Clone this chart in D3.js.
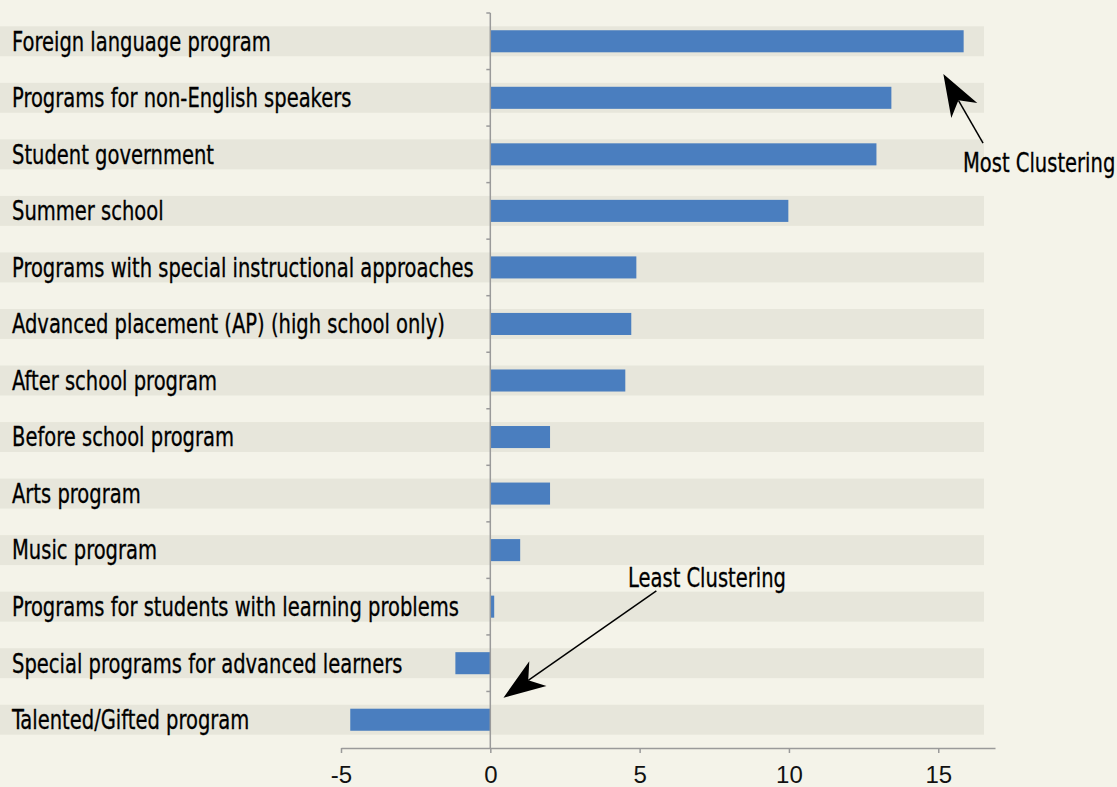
<!DOCTYPE html>
<html><head><meta charset="utf-8">
<script src="https://cdn.jsdelivr.net/npm/d3@7"></script>
<style>
html,body{margin:0;padding:0;background:#f4f3e9;}
svg{display:block;}
</style></head>
<body>
<svg id="chart" width="1117" height="787"></svg>
<script>
const categories = [
  "Foreign language program",
  "Programs for non-English speakers",
  "Student government",
  "Summer school",
  "Programs with special instructional approaches",
  "Advanced placement (AP) (high school only)",
  "After school program",
  "Before school program",
  "Arts program",
  "Music program",
  "Programs for students with learning problems",
  "Special programs for advanced learners",
  "Talented/Gifted program"
];
const values = [15.85, 13.43, 12.93, 9.98, 4.89, 4.72, 4.52, 2.0, 2.0, 1.0, 0.13, -1.17, -4.69];
const tickValues = [-5, 0, 5, 10, 15];
const tickLabels = ["-5", "0", "5", "10", "15"];
const xDomain = [-5, 16.9];
// annotations: text, tip (value, row position), tail (value, row position)
const annotationTexts = ["Most Clustering", "Least Clustering"];
const annotationTips = [[15.17, 0.58], [0.44, 11.61]];
const annotationTails = [[16.5, 1.80], [5.56, 9.72]];

const svg = d3.select("#chart");
const W = 1117, H = 787;
svg.append("rect").attr("width", W).attr("height", H).attr("fill", "#f4f3e9");

const x = d3.scaleLinear().domain(xDomain).range([341, 995]);
const y = d3.scaleBand().domain(categories).range([13, 748]).paddingInner(0).paddingOuter(0);
const step = y.step();
const rowY = r => 13 + (r + 0.5) * step;

const bandH = step * 0.53, barH = step * 0.39;
const LABEL_FONT = "'Liberation Sans Narrow','DejaVu Sans Condensed','Liberation Sans',sans-serif";

// gray bands
svg.append("g").selectAll("rect").data(categories).join("rect")
  .attr("x", 0).attr("width", 984)
  .attr("y", d => y(d) + step / 2 - bandH / 2)
  .attr("height", bandH)
  .attr("fill", "#e7e6db");

// bars
svg.append("g").selectAll("rect").data(values).join("rect")
  .attr("x", d => x(Math.min(0, d)))
  .attr("width", d => Math.abs(x(d) - x(0)))
  .attr("y", (d, i) => y(categories[i]) + step / 2 - barH / 2)
  .attr("height", barH)
  .attr("fill", "#4a7ebf");

// x axis
const xAxis = svg.append("g").attr("transform", "translate(0,748)")
  .call(d3.axisBottom(x).tickValues(tickValues)
    .tickFormat((d, i) => tickLabels[i])
    .tickSize(5).tickSizeOuter(0).tickPadding(13));
xAxis.select(".domain").attr("stroke", "#9a9a9a").attr("stroke-width", 1.5);
xAxis.selectAll(".tick line").attr("stroke", "#9a9a9a").attr("stroke-width", 1.5);
xAxis.selectAll(".tick text").attr("font-family", "'Liberation Sans',Arial,sans-serif")
  .attr("font-size", 24).attr("fill", "#111");

// y axis (vertical line at 0 with boundary ticks on left)
const yAx = svg.append("g");
yAx.append("line").attr("x1", x(0)).attr("x2", x(0)).attr("y1", 13).attr("y2", 748)
  .attr("stroke", "#9a9a9a").attr("stroke-width", 1.5);
yAx.selectAll("line.t").data(d3.range(categories.length)).join("line").attr("class", "t")
  .attr("x1", x(0) - 4).attr("x2", x(0))
  .attr("y1", i => 13 + i * step).attr("y2", i => 13 + i * step)
  .attr("stroke", "#9a9a9a").attr("stroke-width", 1.5);

// category labels
const labels = svg.append("g").selectAll("text").data(categories).join("text")
  .attr("x", 0).attr("y", d => y(d) + step / 2)
  .attr("dy", "0.36em")
  .attr("font-family", LABEL_FONT).attr("font-size", 26).attr("fill", "#000")
  .attr("stroke", "#000").attr("stroke-width", 0.3)
  .text(d => d);
// horizontal compression to match condensed face
const longest = labels.filter(d => d === "Programs with special instructional approaches").node();
const sx = 462 / longest.getComputedTextLength();
labels.attr("transform", d => `translate(12,0) scale(${sx},1)`);

// annotations
const ann = svg.append("g");
const annTextPos = [[963, 172], [628, 587]];
annotationTexts.forEach((t, i) => {
  const txt = ann.append("text")
    .attr("font-family", LABEL_FONT).attr("font-size", 26).attr("fill", "#000")
    .attr("stroke", "#000").attr("stroke-width", 0.3)
    .text(t);
  txt.attr("transform", `translate(${annTextPos[i][0]},${annTextPos[i][1]}) scale(${sx},1)`);
  const tip = [x(annotationTips[i][0]), rowY(annotationTips[i][1])];
  const tail = [x(annotationTails[i][0]), rowY(annotationTails[i][1])];
  const dx = tip[0] - tail[0], dyv = tip[1] - tail[1];
  const len = Math.hypot(dx, dyv);
  const ux = dx / len, uy = dyv / len;
  const headLen = 42, headW = 15;
  const bx = tip[0] - ux * headLen, by = tip[1] - uy * headLen;
  const notchX = tip[0] - ux * headLen * 0.72, notchY = tip[1] - uy * headLen * 0.72;
  ann.append("line").attr("x1", tail[0]).attr("y1", tail[1]).attr("x2", notchX).attr("y2", notchY)
    .attr("stroke", "#000").attr("stroke-width", 1.5);
  ann.append("path")
    .attr("d", `M${tip[0]},${tip[1]} L${bx - uy * headW},${by + ux * headW} L${notchX},${notchY} L${bx + uy * headW},${by - ux * headW} Z`)
    .attr("fill", "#000");
});
</script>
</body></html>
